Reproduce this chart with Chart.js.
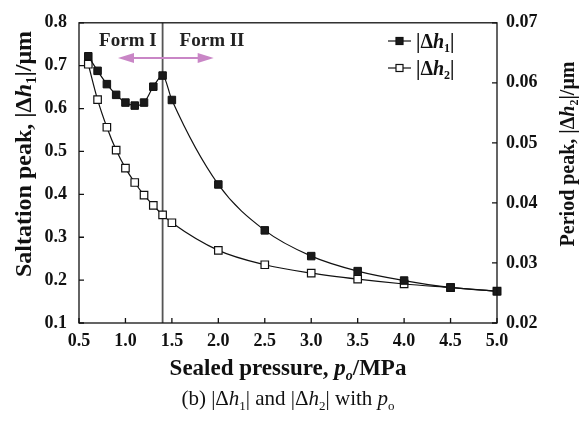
<!DOCTYPE html>
<html lang="en">
<head>
  <meta charset="UTF-8" />
  <title>|Δh1| and |Δh2| with po</title>
  <script src="https://cdn.jsdelivr.net/npm/chart.js"></script>
  <style>
    body { margin: 0; background: #fff; }
    #chart { display: block; }
  </style>
</head>
<body>
  <canvas id="chart" width="579" height="423"></canvas>

  <script>
    // Data
    const pressure = [0.6, 0.7, 0.8, 0.9, 1.0, 1.1, 1.2, 1.3, 1.4, 1.5, 2.0, 2.5, 3.0, 3.5, 4.0, 4.5, 5.0];
    const dh1 = [0.722, 0.688, 0.657, 0.632, 0.614, 0.607, 0.614, 0.651, 0.677, 0.620, 0.423, 0.316, 0.256, 0.221, 0.199, 0.183, 0.174];
    const dh2 = [0.0631, 0.0572, 0.0526, 0.0488, 0.0458, 0.0434, 0.0413, 0.0396, 0.0380, 0.0367, 0.0321, 0.0297, 0.0283, 0.0273, 0.0265, 0.0259, 0.0253];
    const xTicks = [0.5, 1.0, 1.5, 2.0, 2.5, 3.0, 3.5, 4.0, 4.5, 5.0];
    const leftTicks = [0.1, 0.2, 0.3, 0.4, 0.5, 0.6, 0.7, 0.8];
    const rightTicks = [0.02, 0.03, 0.04, 0.05, 0.06, 0.07];

    // Form I / Form II boundary and arrow (data coordinates)
    const formBoundary = 1.4;
    const arrowFrom = 0.92, arrowTo = 1.95, arrowY = 0.718;

    const SERIF = '"Liberation Serif", "Times New Roman", serif';

    function fontOf(p, size) {
      const s = p.sub ? Math.round(size * 0.62) : size;
      return (p.i ? 'italic ' : '') + (p.b ? 'bold ' : '') + s + 'px ' + SERIF;
    }

    // draws a run of text pieces (bold / italic / subscript)
    function drawRich(ctx, parts, x, y, size, align) {
      let total = 0;
      const widths = parts.map(p => {
        ctx.font = fontOf(p, size);
        const w = ctx.measureText(p.t).width;
        total += w;
        return w;
      });
      let cx = align === 'center' ? x - total / 2 : x;
      ctx.textAlign = 'left';
      ctx.textBaseline = 'alphabetic';
      parts.forEach((p, i) => {
        ctx.font = fontOf(p, size);
        ctx.fillText(p.t, cx, y + (p.sub ? size * 0.22 : 0));
        cx += widths[i];
      });
    }

    function dhLabel(n, bold) {
      return [
        { t: '|', b: bold }, { t: 'Δ', b: bold }, { t: 'h', b: bold, i: true },
        { t: n, b: bold, sub: true }, { t: '|', b: bold }
      ];
    }

    const decorations = {
      id: 'decorations',
      beforeDatasetsDraw(chart) {
        const { ctx, chartArea: a, scales } = chart;
        const x = scales.x, yL = scales.yL;
        ctx.save();
        // boundary line
        const bx = x.getPixelForValue(formBoundary);
        ctx.strokeStyle = '#555';
        ctx.lineWidth = 1.8;
        ctx.beginPath();
        ctx.moveTo(bx, a.top);
        ctx.lineTo(bx, a.bottom);
        ctx.stroke();

        // double arrow
        const x1 = x.getPixelForValue(arrowFrom), x2 = x.getPixelForValue(arrowTo);
        const ay = yL.getPixelForValue(arrowY);
        ctx.strokeStyle = '#c986c6';
        ctx.fillStyle = '#c986c6';
        ctx.lineWidth = 2;
        ctx.beginPath();
        ctx.moveTo(x1 + 10, ay);
        ctx.lineTo(x2 - 10, ay);
        ctx.stroke();
        ctx.beginPath();
        ctx.moveTo(x1, ay); ctx.lineTo(x1 + 16, ay - 5); ctx.lineTo(x1 + 16, ay + 5); ctx.closePath();
        ctx.fill();
        ctx.beginPath();
        ctx.moveTo(x2, ay); ctx.lineTo(x2 - 16, ay - 5); ctx.lineTo(x2 - 16, ay + 5); ctx.closePath();
        ctx.fill();

        // Form labels
        ctx.fillStyle = '#222';
        ctx.font = 'bold 19px ' + SERIF;
        ctx.textBaseline = 'alphabetic';
        ctx.textAlign = 'right';
        ctx.fillText('Form I', bx - 6, a.top + 23);
        ctx.textAlign = 'left';
        ctx.fillText('Form II', bx + 17, a.top + 23);
        ctx.restore();
      },
      afterDraw(chart) {
        const { ctx, chartArea: a, scales } = chart;
        ctx.save();
        // frame
        ctx.strokeStyle = '#111';
        ctx.lineWidth = 1.3;
        ctx.strokeRect(a.left, a.top, a.right - a.left, a.bottom - a.top);

        // inward ticks
        ctx.beginPath();
        xTicks.forEach(v => {
          const px = scales.x.getPixelForValue(v);
          ctx.moveTo(px, a.bottom); ctx.lineTo(px, a.bottom - 5);
        });
        leftTicks.forEach(v => {
          const py = scales.yL.getPixelForValue(v);
          ctx.moveTo(a.left, py); ctx.lineTo(a.left + 5, py);
        });
        rightTicks.forEach(v => {
          const py = scales.yR.getPixelForValue(v);
          ctx.moveTo(a.right, py); ctx.lineTo(a.right - 5, py);
        });
        ctx.stroke();

        ctx.fillStyle = '#111';
        // x-axis title
        drawRich(ctx, [
          { t: 'Sealed pressure, ', b: true },
          { t: 'p', b: true, i: true },
          { t: 'o', b: true, i: true, sub: true },
          { t: '/MPa', b: true }
        ], (a.left + a.right) / 2, 375, 23, 'center');

        // caption
        drawRich(ctx, [{ t: '(b) ' }].concat(dhLabel('1', false), [{ t: ' and ' }], dhLabel('2', false), [
          { t: ' with ' }, { t: 'p', i: true }, { t: 'o', sub: true }
        ]), (a.left + a.right) / 2, 405, 21, 'center');

        // left title
        ctx.save();
        ctx.translate(31, 154);
        ctx.rotate(-Math.PI / 2);
        drawRich(ctx, [{ t: 'Saltation peak, ', b: true }].concat(dhLabel('1', true), [{ t: '/μm', b: true }]), 0, 0, 24, 'center');
        ctx.restore();

        // right title
        ctx.save();
        ctx.translate(574, 154);
        ctx.rotate(-Math.PI / 2);
        drawRich(ctx, [{ t: 'Period peak, ', b: true }].concat(dhLabel('2', true), [{ t: '/μm', b: true }]), 0, 0, 20, 'center');
        ctx.restore();

        // legend
        const items = [
          { y: 41, fill: '#1a1a1a', n: '1' },
          { y: 68, fill: '#fff', n: '2' }
        ];
        items.forEach(it => {
          ctx.strokeStyle = '#111';
          ctx.lineWidth = 1.2;
          ctx.beginPath();
          ctx.moveTo(388, it.y); ctx.lineTo(411, it.y);
          ctx.stroke();
          ctx.fillStyle = it.fill;
          ctx.fillRect(396, it.y - 3.5, 7, 7);
          ctx.strokeRect(396, it.y - 3.5, 7, 7);
          ctx.fillStyle = '#111';
          drawRich(ctx, dhLabel(it.n, true), 416, it.y + 7, 20, 'left');
        });
        ctx.restore();
      }
    };

    const tickFont = { family: SERIF, size: 18, weight: 'bold' };

    new Chart(document.getElementById('chart'), {
      type: 'line',
      data: {
        labels: pressure,
        datasets: [
          {
            label: '|Δh1|',
            data: pressure.map((p, i) => ({ x: p, y: dh1[i] })),
            yAxisID: 'yL',
            borderColor: '#111',
            borderWidth: 1.2,
            backgroundColor: '#1a1a1a',
            pointStyle: 'rect',
            pointRadius: 5.3,
            pointBorderWidth: 1,
            pointBorderColor: '#111',
            pointBackgroundColor: '#1a1a1a',
            cubicInterpolationMode: 'monotone',
            clip: false
          },
          {
            label: '|Δh2|',
            data: pressure.map((p, i) => ({ x: p, y: dh2[i] })),
            yAxisID: 'yR',
            borderColor: '#111',
            borderWidth: 1.2,
            backgroundColor: '#fff',
            pointStyle: 'rect',
            pointRadius: 5.3,
            pointBorderWidth: 1.2,
            pointBorderColor: '#111',
            pointBackgroundColor: '#fff',
            cubicInterpolationMode: 'monotone',
            clip: false
          }
        ]
      },
      options: {
        responsive: false,
        animation: false,
        layout: { padding: { top: 15, right: 0, left: 0, bottom: 0 } },
        plugins: { legend: { display: false }, tooltip: { enabled: false } },
        scales: {
          x: {
            type: 'linear',
            min: 0.5, max: 5.0,
            afterBuildTicks: s => { s.ticks = xTicks.map(v => ({ value: v })); },
            afterFit: s => { s.height = 100; },
            grid: { display: false, drawTicks: false },
            border: { display: false },
            ticks: {
              color: '#111', font: tickFont, padding: 8, maxRotation: 0,
              callback: v => v.toFixed(1)
            }
          },
          yL: {
            type: 'linear', position: 'left',
            min: 0.1, max: 0.8,
            afterBuildTicks: s => { s.ticks = leftTicks.map(v => ({ value: v })); },
            afterFit: s => { s.width = 79; },
            grid: { display: false, drawTicks: false },
            border: { display: false },
            ticks: { color: '#111', font: tickFont, padding: 12, callback: v => v.toFixed(1) }
          },
          yR: {
            type: 'linear', position: 'right',
            min: 0.02, max: 0.07,
            afterBuildTicks: s => { s.ticks = rightTicks.map(v => ({ value: v })); },
            afterFit: s => { s.width = 82; },
            grid: { display: false, drawTicks: false },
            border: { display: false },
            ticks: { color: '#111', font: tickFont, padding: 9, callback: v => v.toFixed(2) }
          }
        }
      },
      plugins: [decorations]
    });
  </script>
</body>
</html>
